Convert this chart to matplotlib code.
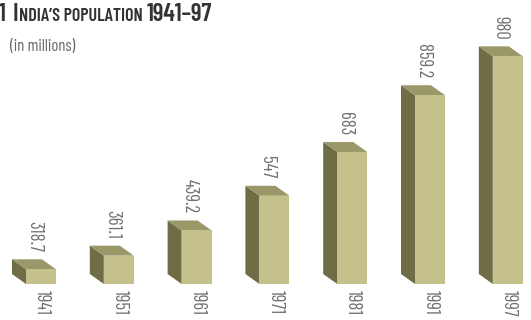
import matplotlib
matplotlib.use("Agg")
import matplotlib.pyplot as plt
from matplotlib.patches import Polygon
from matplotlib import font_manager as fm

years = ["1941", "1951", "1961", "1971", "1981", "1991", "1997"]
population = [318.7, 361.1, 439.2, 547, 683, 859.2, 980]
value_labels = ["318.7", "361.1", "439.2", "547", "683", "859.2", "980"]

names = {f.name for f in fm.fontManager.ttflist}
FONT = next((n for n in ["Barlow Condensed", "Asap Condensed", "Liberation Sans Narrow"] if n in names), "DejaVu Sans")

W, H, DPI = 531, 320, 100
fig = plt.figure(figsize=(W / DPI, H / DPI), dpi=DPI)
fig.patch.set_facecolor("white")
ax = fig.add_axes([0, 0, 1, 1])
ax.axis("off")

# pixel mapping
px_per_x = 77.8
x0_px = 41
base_val = 273
px_per_y = 0.322
base_px_from_top = 284
ax.set_xlim((0 - x0_px) / px_per_x, (W - x0_px) / px_per_x)
ax.set_ylim(base_val - (H - base_px_from_top) / px_per_y,
            base_val + base_px_from_top / px_per_y)

half_w = 15 / px_per_x
dx = -14 / px_per_x
dy = 10 / px_per_y

front_c = "#c4c18c"
side_c = "#6f6d45"
top_c = "#9a9868"

for i, (yr, v, lab) in enumerate(zip(years, population, value_labels)):
    xl, xr = i - half_w, i + half_w
    b, t = base_val, v
    side = Polygon([(xl, b), (xl, t), (xl + dx, t + dy), (xl + dx, b + dy)],
                   closed=True, facecolor=side_c, edgecolor="none")
    top = Polygon([(xl, t), (xr, t), (xr + dx, t + dy), (xl + dx, t + dy)],
                  closed=True, facecolor=top_c, edgecolor="none")
    front = Polygon([(xl, b), (xr, b), (xr, t), (xl, t)],
                    closed=True, facecolor=front_c, edgecolor="none")
    for p in (side, top, front):
        ax.add_patch(p)
    ax.annotate(lab, (i + dx / 2, t + dy), xytext=(0, 5), textcoords="offset points",
                rotation=-90, ha="center", va="bottom", fontsize=13.5,
                color="#707070", family=FONT)
    ax.annotate(yr, (i + 1 / px_per_x, b), xytext=(0, -4), textcoords="offset points",
                rotation=-90, ha="center", va="top", fontsize=13.5,
                color="#707070", family=FONT)

# Title with small caps effect
fig.canvas.draw()
r = fig.canvas.get_renderer()
pieces = [("1", 18, 0), ("I", 18, 7), ("NDIA\u2019S POPULATION", 13, 0.5), ("1941\u201397", 18, 4)]
x = -1
ybase = H - 21
for txt, fs, gap in pieces:
    x += gap
    t = fig.text(x / W, ybase / H, txt, fontsize=fs, fontweight="semibold",
                 color="#333333", family=FONT, ha="left", va="baseline")
    bb = t.get_window_extent(renderer=r)
    x = bb.x1
fig.text(10 / W, (H - 51) / H, "(in millions)", fontsize=12, color="#666666",
         family=FONT, ha="left", va="baseline")

fig.savefig("out.png", dpi=DPI, facecolor="white")
